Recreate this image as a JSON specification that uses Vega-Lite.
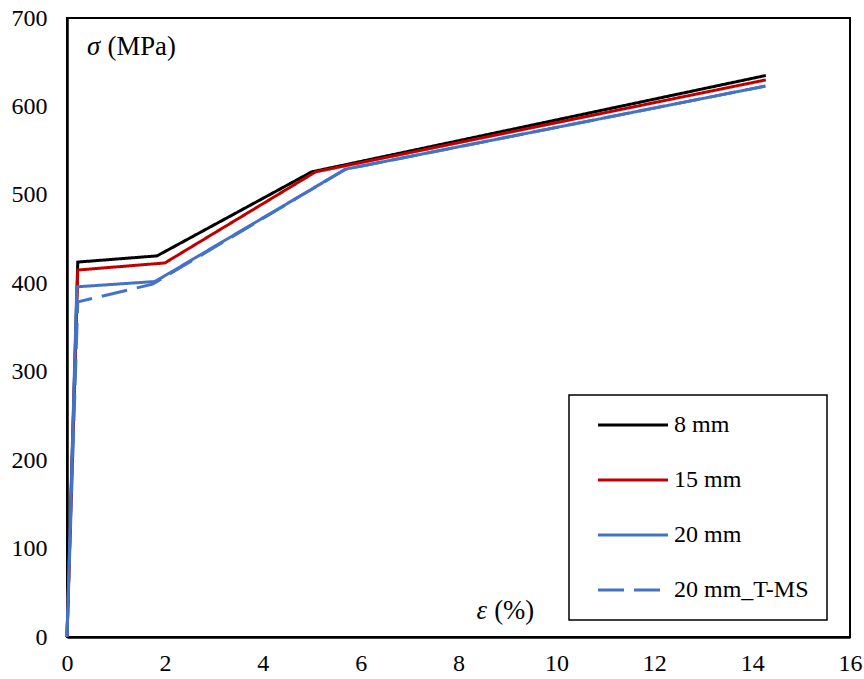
{
  "$schema": "https://vega.github.io/schema/vega-lite/v6.json",
  "width": 783,
  "height": 619,
  "autosize": "none",
  "padding": {"left": 67, "top": 18, "right": 14, "bottom": 42},
  "background": "white",
  "config": {
    "view": {"stroke": "black", "strokeWidth": 2},
    "axis": {
      "grid": false,
      "ticks": false,
      "tickSize": 0,
      "domainColor": "black",
      "domainWidth": 2.5,
      "labelFont": "Liberation Serif",
      "labelFontSize": 24,
      "labelColor": "black",
      "labelFlush": false,
      "title": null
    },
    "legend": {
      "orient": "none",
      "legendX": 502,
      "legendY": 377,
      "strokeColor": "black",
      "strokeWidth": 1.5,
      "fillColor": "white",
      "padding": 18,
      "symbolOffset": 9,
      "symbolType": "M-1,0H6",
      "symbolSize": 400,
      "symbolStrokeWidth": 3,
      "labelFont": "Liberation Serif",
      "labelFontSize": 24,
      "labelColor": "black",
      "labelOffset": 54,
      "labelLimit": 300,
      "rowPadding": 31
    }
  },
  "datasets": {
    "curves": [
      {"series": "8 mm", "strain": 0, "stress": 0},
      {"series": "8 mm", "strain": 0.22, "stress": 424},
      {"series": "8 mm", "strain": 1.84, "stress": 431},
      {"series": "8 mm", "strain": 5.0, "stress": 526},
      {"series": "8 mm", "strain": 14.28, "stress": 635},
      {"series": "15 mm", "strain": 0, "stress": 0},
      {"series": "15 mm", "strain": 0.22, "stress": 415},
      {"series": "15 mm", "strain": 2.0, "stress": 423},
      {"series": "15 mm", "strain": 5.08, "stress": 526},
      {"series": "15 mm", "strain": 14.28, "stress": 630},
      {"series": "20 mm", "strain": 0, "stress": 0},
      {"series": "20 mm", "strain": 0.2, "stress": 396},
      {"series": "20 mm", "strain": 1.8, "stress": 402},
      {"series": "20 mm", "strain": 5.69, "stress": 529},
      {"series": "20 mm", "strain": 14.27, "stress": 623},
      {"series": "20 mm_T-MS", "strain": 0, "stress": 0},
      {"series": "20 mm_T-MS", "strain": 0.22, "stress": 379},
      {"series": "20 mm_T-MS", "strain": 1.75, "stress": 399},
      {"series": "20 mm_T-MS", "strain": 5.69, "stress": 529},
      {"series": "20 mm_T-MS", "strain": 14.27, "stress": 623}
    ]
  },
  "layer": [
    {
      "data": {"name": "curves"},
      "mark": {"type": "line", "strokeWidth": 3},
      "encoding": {
        "x": {"field": "strain", "type": "quantitative", "scale": {"domain": [0, 16], "nice": false}, "axis": {"values": [0, 2, 4, 6, 8, 10, 12, 14, 16], "labelPadding": 14}},
        "y": {"field": "stress", "type": "quantitative", "scale": {"domain": [0, 700], "nice": false}, "axis": {"values": [0, 100, 200, 300, 400, 500, 600, 700], "labelPadding": 20}},
        "color": {
          "field": "series",
          "type": "nominal",
          "scale": {"domain": ["8 mm", "15 mm", "20 mm", "20 mm_T-MS"], "range": ["#000000", "#C00000", "#4472C4", "#4472C4"]},
          "legend": {"title": null}
        },
        "strokeDash": {
          "field": "series",
          "type": "nominal",
          "scale": {"domain": ["8 mm", "15 mm", "20 mm", "20 mm_T-MS"], "range": [[1, 0], [1, 0], [1, 0], [26, 10]]},
          "legend": {"title": null}
        }
      }
    },
    {
      "data": {"values": [{"t": "σ"}]},
      "mark": {"type": "text", "align": "left", "baseline": "middle", "fontSize": 26.7, "fontStyle": "italic", "font": "Liberation Serif", "color": "black"},
      "encoding": {"x": {"datum": 0.41}, "y": {"datum": 667}, "text": {"field": "t"}}
    },
    {
      "data": {"values": [{"t": "(MPa)"}]},
      "mark": {"type": "text", "align": "left", "baseline": "middle", "fontSize": 26.7, "font": "Liberation Serif", "color": "black"},
      "encoding": {"x": {"datum": 0.83}, "y": {"datum": 667}, "text": {"field": "t"}}
    },
    {
      "data": {"values": [{"t": "ε"}]},
      "mark": {"type": "text", "align": "left", "baseline": "middle", "fontSize": 26.7, "fontStyle": "italic", "font": "Liberation Serif", "color": "black"},
      "encoding": {"x": {"datum": 8.37}, "y": {"datum": 29.4}, "text": {"field": "t"}}
    },
    {
      "data": {"values": [{"t": "(%)"}]},
      "mark": {"type": "text", "align": "left", "baseline": "middle", "fontSize": 26.7, "font": "Liberation Serif", "color": "black"},
      "encoding": {"x": {"datum": 8.73}, "y": {"datum": 29.4}, "text": {"field": "t"}}
    }
  ]
}
